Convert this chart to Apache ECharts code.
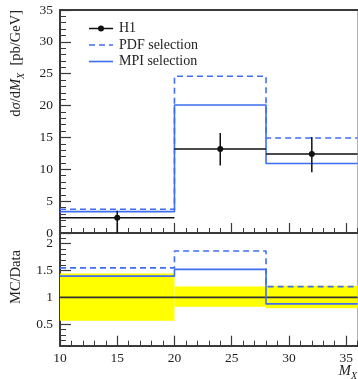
<!DOCTYPE html>
<html>
<head>
<meta charset="utf-8">
<script src="https://cdn.jsdelivr.net/npm/echarts@6/dist/echarts.min.js"></script>
<style>
  html, body { margin: 0; padding: 0; background: #fff; }
  #chart { width: 358px; height: 379px; }
</style>
</head>
<body>
<div id="chart"></div>
<script>
// Bin edges and centres in M_X
const binEdges = [10, 20, 28, 36];
const binCenters = [15, 24, 32];

// H1 measurement (pb/GeV) with asymmetric errors
const h1Values = [2.4, 13.2, 12.4];
const h1ErrUp = [1.1, 2.5, 2.65];
const h1ErrDown = [2.4, 2.6, 2.87];

// Model predictions (pb/GeV)
const pdfValues = [3.72, 24.6, 14.9];
const mpiValues = [3.35, 20.1, 10.9];

// Relative data uncertainty band in the ratio panel
const bandLow = [0.565, 0.825, 0.796];
const bandHigh = [1.445, 1.204, 1.216];

// Tick labels
const xTickValues = [10, 15, 20, 25, 30, 35];
const ratioTickValues = [0.5, 1, 1.5, 2];

const FONT = '"Liberation Serif", "DejaVu Serif", serif';
const BLUE = '#3f6ef3';
const AXIS = '#3a3a3a';

// Histogram outline: one point per bin edge, held flat across each bin
function stepData(values) {
  return binEdges.map((e, i) => [e, values[Math.min(i, values.length - 1)]]);
}
const ratio = (mc) => mc.map((v, i) => v / h1Values[i]);

const h1Data = h1Values.map((v, i) => [binEdges[i], binEdges[i + 1], binCenters[i], v, v - h1ErrDown[i], v + h1ErrUp[i]]);
const bandData = bandLow.map((lo, i) => [binEdges[i], binEdges[i + 1], lo, bandHigh[i]]);

const chart = echarts.init(document.getElementById('chart'), null, { renderer: 'canvas' });

const grids = [
  { left: 60, top: 10, width: 297.6, height: 223, show: true, borderColor: '#aaa', borderWidth: 1, backgroundColor: 'transparent' },
  { left: 60, top: 233, width: 297.6, height: 112.7, show: true, borderColor: '#aaa', borderWidth: 1, backgroundColor: 'transparent' }
];

const labelStyle = { color: '#222', fontFamily: FONT, fontSize: 13.5 };

const xAxes = [
  // top panel: major ticks
  { gridIndex: 0, type: 'value', min: 10, max: 36, position: 'bottom',
    axisLine: { show: true, lineStyle: { color: AXIS, width: 2 } },
    axisTick: { show: true, inside: true, length: 10, customValues: xTickValues, lineStyle: { color: AXIS, width: 1.2 } },
    axisLabel: { show: false }, splitLine: { show: false } },
  // top panel: minor ticks
  { gridIndex: 0, type: 'value', min: 10, max: 36, interval: 1, position: 'bottom',
    axisLine: { show: false },
    axisTick: { show: true, inside: true, length: 5, lineStyle: { color: AXIS, width: 1 } },
    axisLabel: { show: false }, splitLine: { show: false } },
  // top panel: upper frame
  { gridIndex: 0, type: 'value', min: 10, max: 36, position: 'top',
    axisLine: { show: true, lineStyle: { color: AXIS, width: 2 } },
    axisTick: { show: false }, axisLabel: { show: false }, splitLine: { show: false } },
  // ratio panel: major ticks + labels
  { gridIndex: 1, type: 'value', min: 10, max: 36, position: 'bottom',
    axisLine: { show: true, lineStyle: { color: AXIS, width: 2 } },
    axisTick: { show: true, inside: true, length: 10, customValues: xTickValues, lineStyle: { color: AXIS, width: 1.2 } },
    axisLabel: Object.assign({ show: true, customValues: xTickValues, margin: 6 }, labelStyle),
    splitLine: { show: false } },
  // ratio panel: minor ticks
  { gridIndex: 1, type: 'value', min: 10, max: 36, interval: 1, position: 'bottom',
    axisLine: { show: false },
    axisTick: { show: true, inside: true, length: 5, lineStyle: { color: AXIS, width: 1 } },
    axisLabel: { show: false }, splitLine: { show: false } }
];

const yAxes = [
  { gridIndex: 0, type: 'value', min: 0, max: 35, interval: 5, position: 'left',
    axisLine: { show: true, lineStyle: { color: AXIS, width: 2 } },
    axisTick: { show: true, inside: true, length: 11, lineStyle: { color: AXIS, width: 1.2 } },
    minorTick: { show: true, splitNumber: 5, length: 6, lineStyle: { color: AXIS, width: 1 } },
    axisLabel: Object.assign({ show: true, margin: 7 }, labelStyle),
    splitLine: { show: false } },
  { gridIndex: 1, type: 'value', min: 0.1, max: 2.2, position: 'left',
    axisLine: { show: true, lineStyle: { color: AXIS, width: 2 } },
    axisTick: { show: true, inside: true, length: 11, customValues: ratioTickValues, lineStyle: { color: AXIS, width: 1.2 } },
    axisLabel: Object.assign({ show: true, customValues: ratioTickValues, margin: 7 }, labelStyle),
    splitLine: { show: false } },
  { gridIndex: 1, type: 'value', min: 0.1, max: 2.2, interval: 0.1, position: 'left',
    axisLine: { show: false },
    axisTick: { show: true, inside: true, length: 6, lineStyle: { color: AXIS, width: 1 } },
    axisLabel: { show: false }, splitLine: { show: false } }
];

function h1Render(params, api) {
  const x0 = api.value(0), x1 = api.value(1), xc = api.value(2);
  const y = api.value(3), lo = api.value(4), hi = api.value(5);
  const pL = api.coord([x0, y]), pR = api.coord([x1, y]);
  const pC = api.coord([xc, y]), pLo = api.coord([xc, lo]), pHi = api.coord([xc, hi]);
  const ls = { stroke: '#111', lineWidth: 1.5 };
  return {
    type: 'group',
    children: [
      { type: 'line', shape: { x1: pL[0], y1: pL[1], x2: pR[0], y2: pR[1] }, style: ls },
      { type: 'line', shape: { x1: pLo[0], y1: pLo[1], x2: pHi[0], y2: pHi[1] }, style: ls },
      { type: 'circle', shape: { cx: pC[0], cy: pC[1], r: 3 }, style: { fill: '#111' } }
    ]
  };
}

function bandRender(params, api) {
  const a = api.coord([api.value(0), api.value(3)]);
  const b = api.coord([api.value(1), api.value(2)]);
  return { type: 'rect', shape: { x: a[0], y: a[1], width: b[0] - a[0], height: b[1] - a[1] }, style: { fill: '#ffff00' } };
}

const stepLine = (name, xi, yi, data, type, color, z) => ({
  name, type: 'line', xAxisIndex: xi, yAxisIndex: yi, data, step: 'end',
  symbol: 'none', silent: true, animation: false, z,
  lineStyle: { color, width: 1.6, type }
});

const series = [
  stepLine('PDF selection', 0, 0, stepData(pdfValues), [6, 4], BLUE, 3),
  stepLine('MPI selection', 0, 0, stepData(mpiValues), 'solid', BLUE, 3),
  { name: 'H1', type: 'custom', xAxisIndex: 0, yAxisIndex: 0, data: h1Data, renderItem: h1Render, clip: true, z: 4, animation: false },
  { name: 'band', type: 'custom', xAxisIndex: 3, yAxisIndex: 1, data: bandData, renderItem: bandRender, clip: true, z: 1, animation: false },
  stepLine('H1 ratio', 3, 1, stepData(ratio(h1Values)), 'solid', '#333', 2),
  stepLine('PDF ratio', 3, 1, stepData(ratio(pdfValues)), [6, 4], BLUE, 3),
  stepLine('MPI ratio', 3, 1, stepData(ratio(mpiValues)), 'solid', BLUE, 3)
];

const txt = { fill: '#222', font: '14px ' + FONT };
const rich = {
  r: { fontFamily: FONT, fontSize: 14.5, fill: '#222', lineHeight: 20, verticalAlign: 'middle' },
  i: { fontFamily: FONT, fontSize: 14.5, fontStyle: 'italic', fill: '#222', lineHeight: 20, verticalAlign: 'middle' },
  s: { fontFamily: FONT, fontSize: 10, fontStyle: 'italic', fill: '#222', lineHeight: 20, verticalAlign: 'bottom' }
};

const graphic = [
  // legend
  { type: 'line', shape: { x1: 89, y1: 28.5, x2: 113, y2: 28.5 }, style: { stroke: '#111', lineWidth: 1.5 } },
  { type: 'circle', shape: { cx: 101, cy: 28.5, r: 3 }, style: { fill: '#111' } },
  { type: 'text', x: 119, y: 28.5, style: Object.assign({ text: 'H1', verticalAlign: 'middle' }, txt) },
  { type: 'line', shape: { x1: 89, y1: 45, x2: 113, y2: 45 }, style: { stroke: BLUE, lineWidth: 1.6, lineDash: [6, 4] } },
  { type: 'text', x: 119, y: 45, style: Object.assign({ text: 'PDF selection', verticalAlign: 'middle' }, txt) },
  { type: 'line', shape: { x1: 89, y1: 61.5, x2: 113, y2: 61.5 }, style: { stroke: BLUE, lineWidth: 1.6 } },
  { type: 'text', x: 119, y: 61.5, style: Object.assign({ text: 'MPI selection', verticalAlign: 'middle' }, txt) },
  // axis titles
  { type: 'text', x: 16, y: 10, rotation: Math.PI / 2,
    style: { text: '{r|d}{i|σ}{r|/d}{i|M}{s|X}{r|  [pb/GeV]}', rich, align: 'right', verticalAlign: 'middle' } },
  { type: 'text', x: 16, y: 277, rotation: Math.PI / 2,
    style: { text: 'MC/Data', align: 'center', verticalAlign: 'middle', fill: '#222', font: '14.5px ' + FONT } },
  { type: 'text', x: 357, y: 371,
    style: { text: '{i|M}{s|X}', rich, align: 'right', verticalAlign: 'middle' } }
];

chart.setOption({
  animation: false,
  backgroundColor: '#fff',
  grid: grids,
  xAxis: xAxes,
  yAxis: yAxes,
  series,
  graphic
});
</script>
</body>
</html>
